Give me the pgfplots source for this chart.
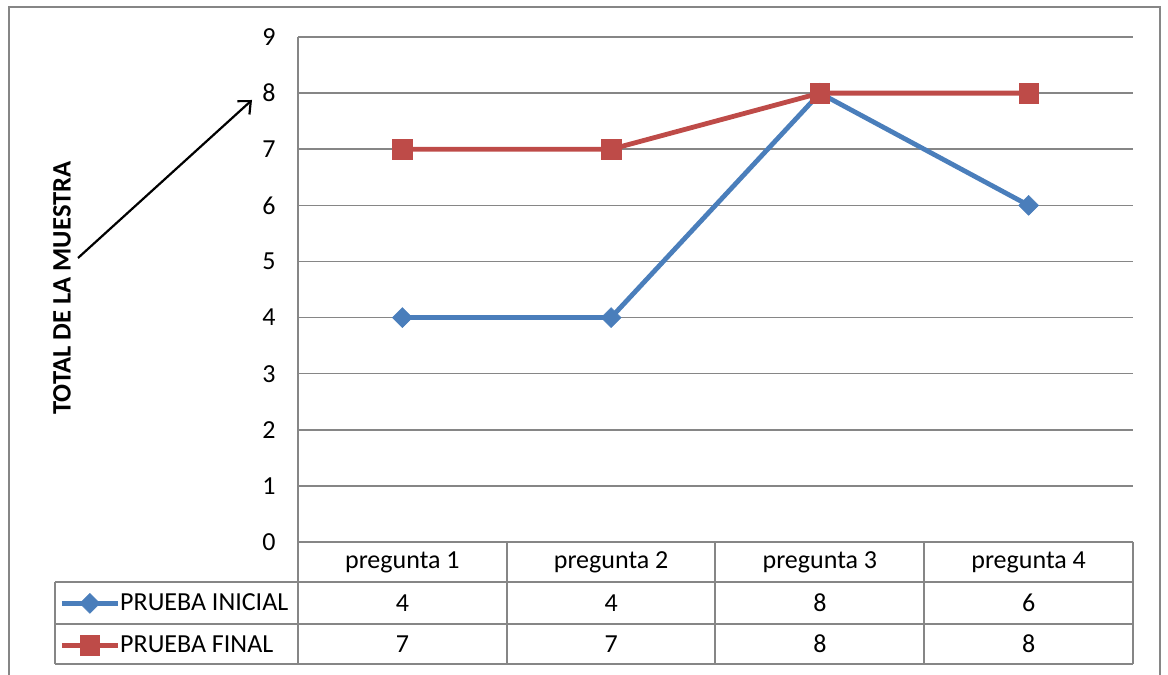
\documentclass[border=0pt]{standalone}
\usepackage{fontspec}
\setmainfont{Carlito}
\usepackage{pgfplots}
\pgfplotsset{compat=1.18}
\usetikzlibrary{arrows.meta}
\definecolor{serieA}{HTML}{4A7EBB}
\definecolor{serieB}{HTML}{BE4B48}
\definecolor{rejilla}{HTML}{868686}

\begin{document}
\begin{tikzpicture}[x=0.5pt,y=0.5pt,font=\fontsize{13}{15.6}\selectfont]
\useasboundingbox (0,0) rectangle (1168,675);
% marco exterior
\draw[rejilla, line width=0.6pt] (9,-10) -- (9,668) -- (1160,668) -- (1160,-10);
% tabla de datos
\draw[rejilla, line width=0.75pt] (55,93) -- (1133,93);
\draw[rejilla, line width=0.75pt] (55,51) -- (1133,51);
\draw[rejilla, line width=0.75pt] (55,11) -- (1133,11);
\draw[rejilla, line width=0.75pt] (55,93) -- (55,11);
\draw[rejilla, line width=0.75pt] (298,638) -- (298,11);
\foreach \x in {507,715,924,1133}
  \draw[rejilla, line width=0.75pt] (\x,133) -- (\x,11);
% titulo del eje y
\node[rotate=90, font=\fontsize{13.3}{15.6}\selectfont\bfseries] at (62,387) {TOTAL DE LA MUESTRA};
\draw[-{Straight Barb[length=5pt,width=9pt]}, line width=1.1pt] (78,417) -- (252,575);

\begin{axis}[
    at={(149pt,66.5pt)}, anchor=south west,
    scale only axis, width=417.5pt, height=252.5pt,
    xmin=0.5, xmax=4.5, ymin=0, ymax=9,
    ytick={0,...,9}, xtick=\empty,
    ymajorgrids, grid style={rejilla, line width=0.75pt},
    axis line style={draw=none},
    major tick length=0pt,
    yticklabel style={inner xsep=0pt, xshift=-11pt},
    /pgf/number format/assume math mode=true,
    clip=false,
    legend cell align=left,
    legend style={at={(-0.2862,-0.0792)}, anchor=north west,
        draw=none, fill=none, inner sep=0pt, row sep=0pt, column sep=0pt,
        nodes={inner sep=0pt, minimum height=21pt}},
    legend image code/.code={\draw[mark repeat=2, mark phase=2, #1]
        plot coordinates {(0pt,0pt) (14pt,0pt) (28pt,0pt)};},
]
\addplot[serieA, line width=2.4pt, mark=square*, mark size=3.5pt,
    mark options={rotate=45, line width=0.3pt}]
    coordinates {(1,4) (2,4) (3,8) (4,6)};
\addlegendentry{PRUEBA INICIAL}
\addplot[serieB, line width=2.4pt, mark=square*, mark size=4.9pt,
    mark options={line width=0.3pt}]
    coordinates {(1,7) (2,7) (3,8) (4,8)};
\addlegendentry{PRUEBA FINAL}

% encabezados y valores de la tabla
\node at (axis cs:1,-0.356) {pregunta 1};
\node at (axis cs:2,-0.356) {pregunta 2};
\node at (axis cs:3,-0.356) {pregunta 3};
\node at (axis cs:4,-0.356) {pregunta 4};
\node at (axis cs:1,-1.087) {4};
\node at (axis cs:2,-1.087) {4};
\node at (axis cs:3,-1.087) {8};
\node at (axis cs:4,-1.087) {6};
\node at (axis cs:1,-1.818) {7};
\node at (axis cs:2,-1.818) {7};
\node at (axis cs:3,-1.818) {8};
\node at (axis cs:4,-1.818) {8};
\end{axis}
\end{tikzpicture}
\end{document}
